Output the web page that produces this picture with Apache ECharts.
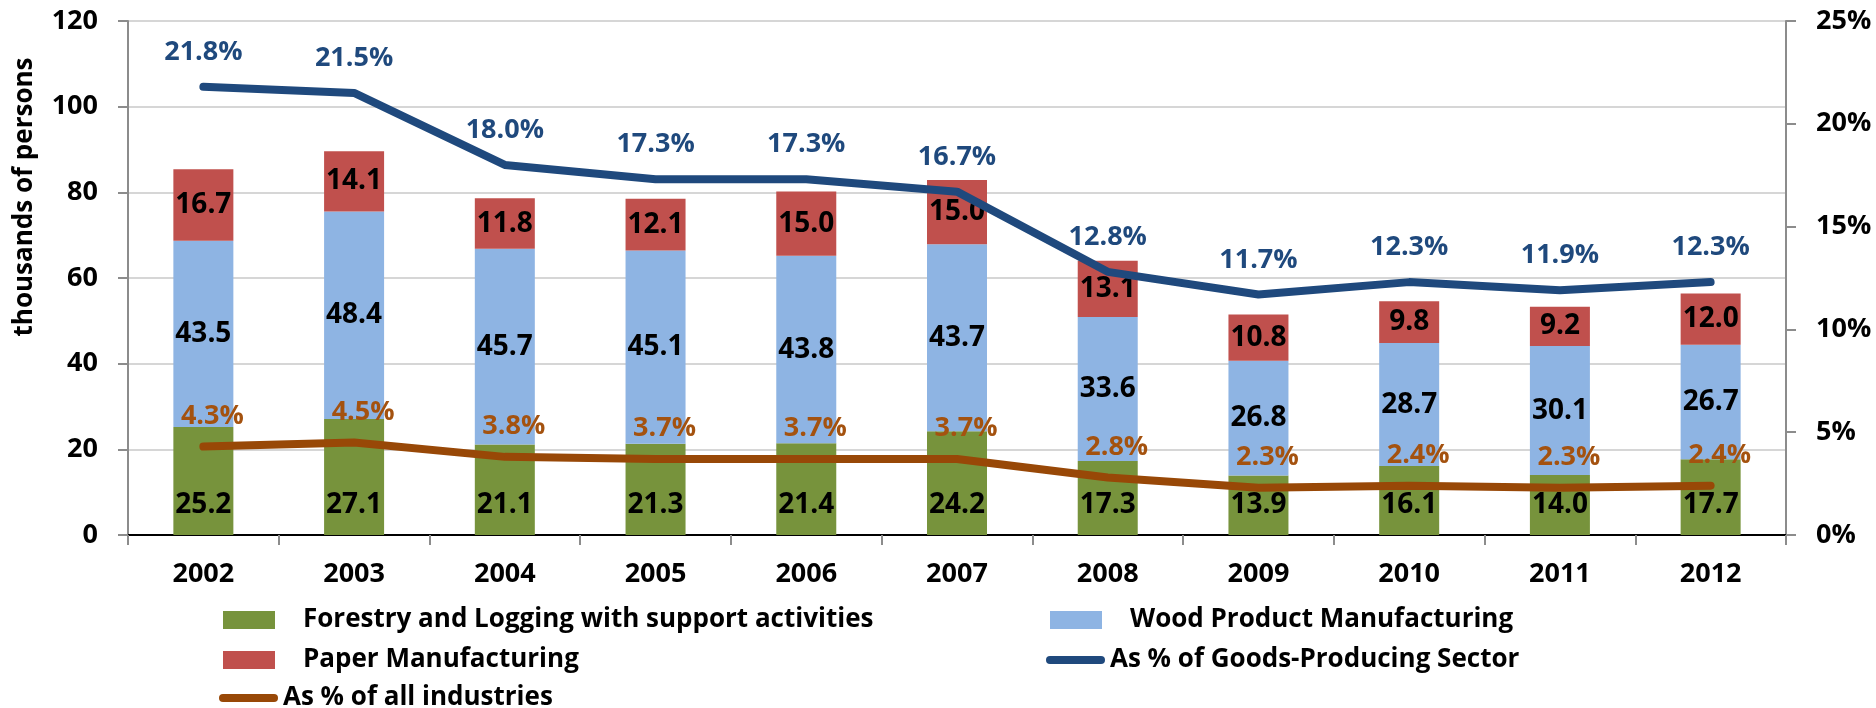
<!DOCTYPE html>
<html>
<head>
<meta charset="utf-8">
<title>Forest sector employment</title>
<script src="https://cdn.jsdelivr.net/npm/echarts@6.0.0/dist/echarts.min.js"></script>
<style>
  html, body { margin: 0; padding: 0; background: #fff; }
  #chart { width: 1876px; height: 708px; }
</style>
</head>
<body>
<div id="chart"></div>
<script>
// Employment by industry, thousands of persons
const years = ['2002', '2003', '2004', '2005', '2006', '2007', '2008', '2009', '2010', '2011', '2012'];
const forestry = [25.2, 27.1, 21.1, 21.3, 21.4, 24.2, 17.3, 13.9, 16.1, 14.0, 17.7];
const wood = [43.5, 48.4, 45.7, 45.1, 43.8, 43.7, 33.6, 26.8, 28.7, 30.1, 26.7];
const paper = [16.7, 14.1, 11.8, 12.1, 15.0, 15.0, 13.1, 10.8, 9.8, 9.2, 12.0];
// Sector share, percent
const goodsShare = [21.8, 21.5, 18.0, 17.3, 17.3, 16.7, 12.8, 11.7, 12.3, 11.9, 12.3];
const allShare = [4.3, 4.5, 3.8, 3.7, 3.7, 3.7, 2.8, 2.3, 2.4, 2.3, 2.4];

const names = {
  forestry: 'Forestry and Logging with support activities',
  wood: 'Wood Product Manufacturing',
  paper: 'Paper Manufacturing',
  goods: 'As % of Goods-Producing Sector',
  all: 'As % of all industries'
};

const FONT = "'Open Sans', 'DejaVu Sans', sans-serif";
const AXIS_GRAY = '#8c8c8c';
// rounded stroke used as the legend icon of the share lines
const capsule = 'path://M4,0H55A4,4,0,0,1,55,8H4A4,4,0,0,1,4,0Z';

const chart = echarts.init(document.getElementById('chart'), null, { renderer: 'canvas' });

function barLabel(position, distance) {
  return {
    show: true,
    position: position,
    distance: distance,
    color: '#000',
    fontFamily: FONT,
    fontWeight: 'bold',
    fontSize: 28,
    formatter: p => p.value.toFixed(1)
  };
}

function legendFont(padLeft) {
  return { color: '#000', fontFamily: FONT, fontWeight: 'bold', fontSize: 26, padding: [0, 0, 0, padLeft] };
}

function rectLegend(items, left, top) {
  return {
    data: items,
    orient: 'vertical',
    left: left,
    top: top,
    itemWidth: 52,
    itemHeight: 18,
    itemGap: 14,
    icon: 'rect',
    selectedMode: false,
    textStyle: legendFont(23)
  };
}

function lineLegend(name, left, top) {
  return {
    data: [{ name: name, icon: capsule }],
    left: left,
    top: top,
    itemWidth: 59,
    itemHeight: 8,
    selectedMode: false,
    textStyle: legendFont(0)
  };
}

function shareLine(name, data, color, labelColor, distance, offset) {
  return {
    name: name,
    type: 'line',
    yAxisIndex: 1,
    z: 5,
    symbol: 'circle',
    symbolSize: 0.1,
    showSymbol: true,
    color: color,
    itemStyle: { color: color },
    lineStyle: { color: color, width: 8, cap: 'round', join: 'round' },
    label: {
      show: true,
      position: 'top',
      distance: distance,
      offset: offset,
      color: labelColor,
      fontFamily: FONT,
      fontWeight: 'bold',
      fontSize: 27,
      formatter: p => p.value.toFixed(1) + '%'
    },
    data: data
  };
}

const option = {
  animation: false,
  backgroundColor: '#fff',
  textStyle: { fontFamily: FONT },
  grid: { left: 128, right: 90, top: 21, bottom: 173, containLabel: false },
  xAxis: [
    {
      type: 'category',
      data: years,
      position: 'bottom',
      axisLine: { show: true, lineStyle: { color: AXIS_GRAY, width: 2 } },
      axisTick: { show: true, length: 10, lineStyle: { color: AXIS_GRAY, width: 2 } },
      axisLabel: { color: '#000', fontFamily: FONT, fontWeight: 'bold', fontSize: 27, margin: 26 },
      splitLine: { show: false }
    },
    {
      type: 'category',
      data: years,
      position: 'top',
      axisLine: { show: true, lineStyle: { color: '#000', width: 2 } },
      axisTick: { show: false },
      axisLabel: { show: false },
      splitLine: { show: false }
    }
  ],
  yAxis: [
    {
      type: 'value',
      min: 0,
      max: 120,
      interval: 20,
      position: 'left',
      axisLine: { show: true, lineStyle: { color: AXIS_GRAY, width: 2 } },
      axisTick: { show: true, length: 10, lineStyle: { color: AXIS_GRAY, width: 2 } },
      axisLabel: { color: '#000', fontFamily: FONT, fontWeight: 'bold', fontSize: 27, margin: 30 },
      splitLine: { show: true, lineStyle: { color: '#d6d6d6', width: 2 } }
    },
    {
      type: 'value',
      min: 0,
      max: 25,
      interval: 5,
      position: 'right',
      axisLine: { show: true, lineStyle: { color: AXIS_GRAY, width: 2 } },
      axisTick: { show: true, length: 10, lineStyle: { color: AXIS_GRAY, width: 2 } },
      axisLabel: { color: '#000', fontFamily: FONT, fontWeight: 'bold', fontSize: 27, margin: 30, formatter: '{value}%' },
      splitLine: { show: false }
    }
  ],
  legend: [
    rectLegend([names.forestry, names.paper], 218, 602),
    lineLegend(names.all, 214, 680),
    rectLegend([names.wood], 1045, 602),
    lineLegend(names.goods, 1041, 642)
  ],
  graphic: [
    {
      type: 'text',
      x: 25,
      y: 197,
      rotation: Math.PI / 2,
      style: {
        text: 'thousands of persons',
        fill: '#000',
        font: "bold 26px " + FONT,
        textAlign: 'center',
        textVerticalAlign: 'middle'
      },
      silent: true
    }
  ],
  series: [
    {
      name: names.forestry,
      type: 'bar',
      stack: 'employment',
      barWidth: 60,
      itemStyle: { color: '#77933c' },
      label: barLabel('insideBottom', 16),
      data: forestry
    },
    {
      name: names.wood,
      type: 'bar',
      stack: 'employment',
      barWidth: 60,
      itemStyle: { color: '#8eb4e3' },
      label: barLabel('inside', 0),
      data: wood
    },
    {
      name: names.paper,
      type: 'bar',
      stack: 'employment',
      barWidth: 60,
      itemStyle: { color: '#c0504d' },
      label: barLabel('inside', 0),
      data: paper
    },
    shareLine(names.goods, goodsShare, '#1f497d', '#1f497d', 21, [0, 0]),
    shareLine(names.all, allShare, '#984807', '#a4520f', 17, [9, 0])
  ]
};

chart.setOption(option);
</script>
</body>
</html>
